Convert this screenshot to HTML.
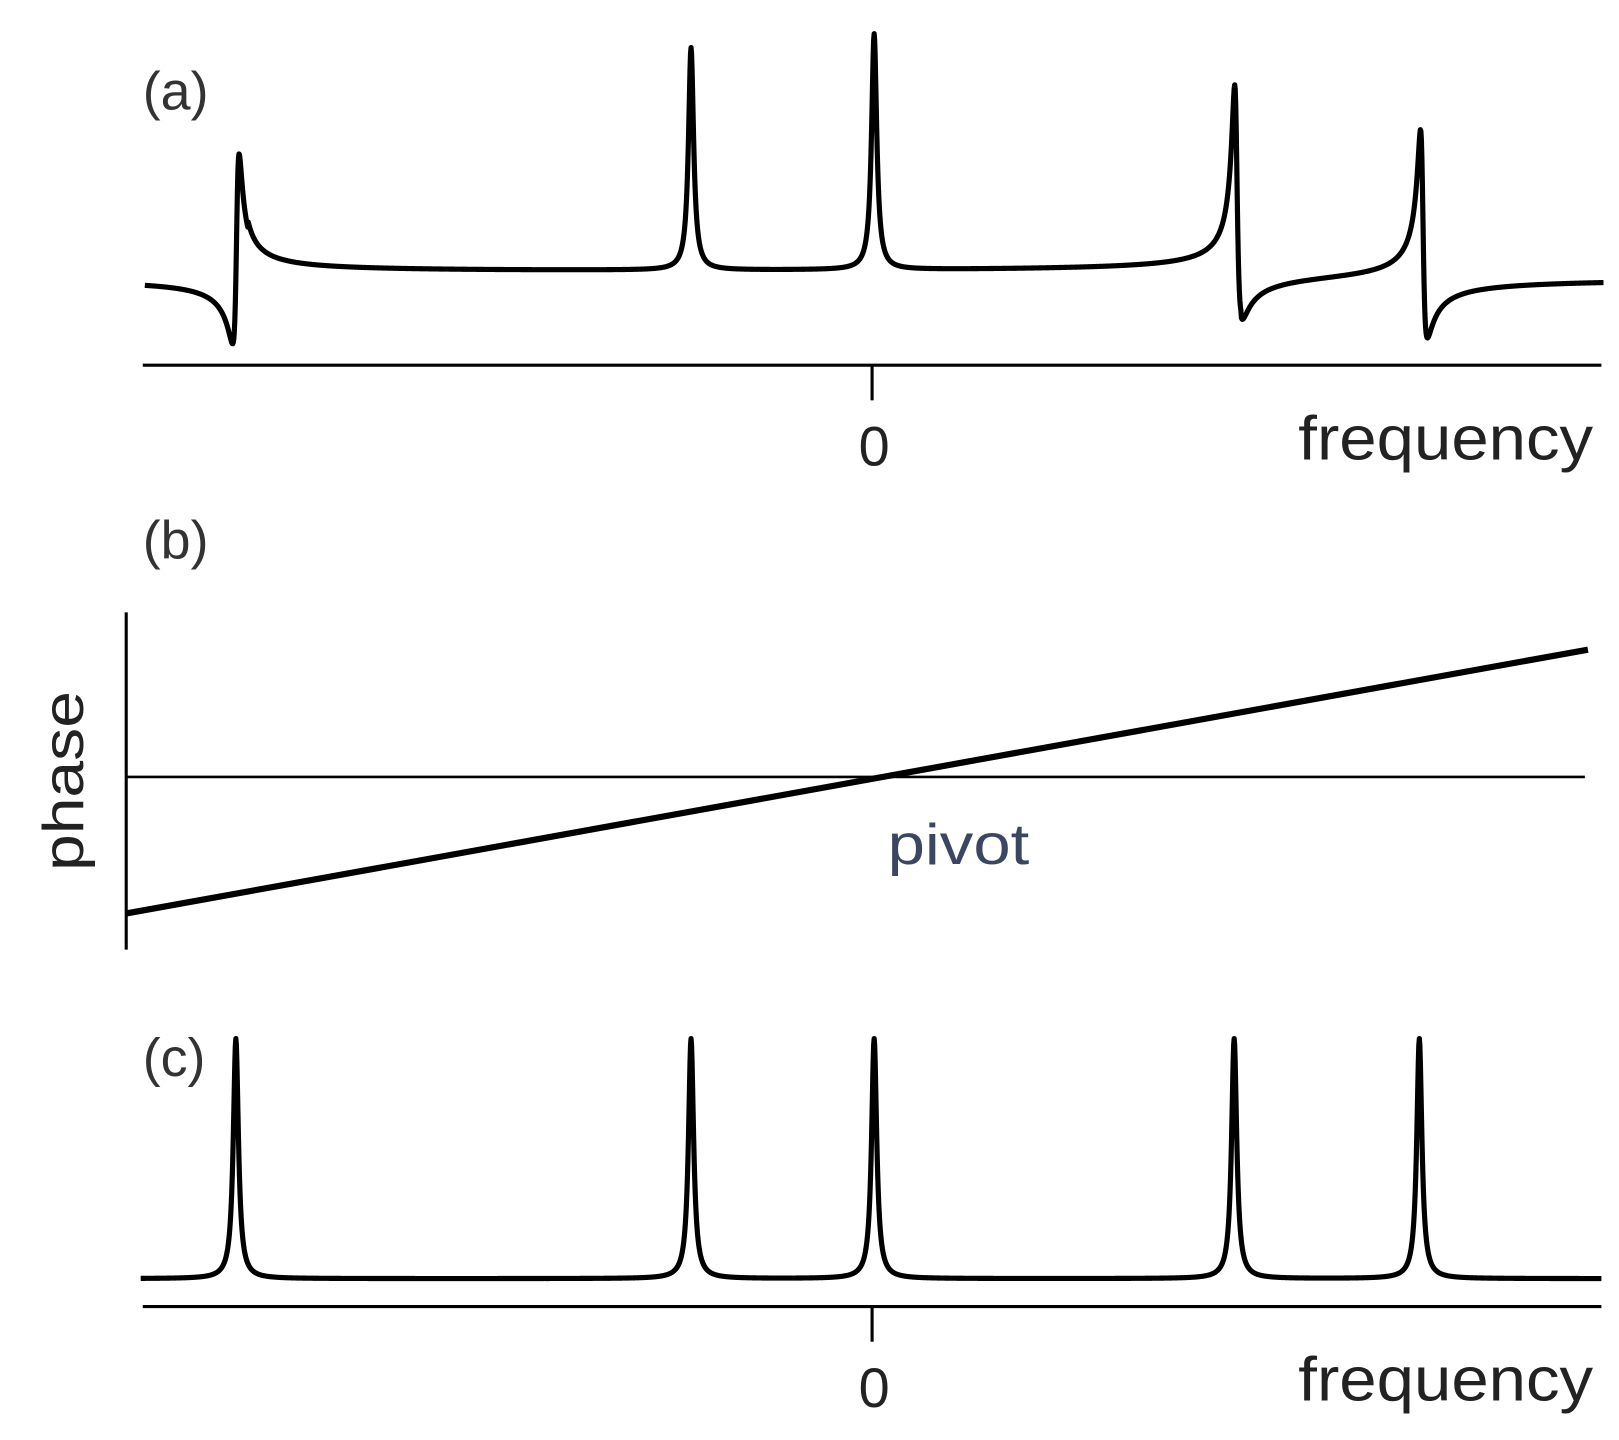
<!DOCTYPE html>
<html><head><meta charset="utf-8"><style>
html,body{margin:0;padding:0;background:#fff;}
svg{display:block;}
text{font-family:"Liberation Sans",Arial,sans-serif;}
</style></head><body>
<svg id="s" width="1619" height="1440" viewBox="0 0 1619 1440" xmlns="http://www.w3.org/2000/svg">
<rect width="1619" height="1440" fill="#fff"/>
<g transform="scale(1.0345)">
<text x="138" y="106" font-size="52" fill="#333">(a)</text>
<text x="138" y="540" font-size="52" fill="#333">(b)</text>
<text x="138" y="1040" font-size="52" fill="#333">(c)</text>
<path id="pa" fill="none" stroke="#000" stroke-width="5" stroke-linejoin="round"/>
<path id="pc" fill="none" stroke="#000" stroke-width="5" stroke-linejoin="round"/>
<line x1="138" y1="353" x2="1548" y2="353" stroke="#000" stroke-width="3"/>
<line x1="843" y1="353" x2="843" y2="387" stroke="#000" stroke-width="3"/>
<text x="845" y="450" font-size="54" fill="#222" text-anchor="middle">0</text>
<text x="1255" y="444" font-size="60" fill="#222" textLength="285" lengthAdjust="spacingAndGlyphs">frequency</text>
<line x1="122" y1="592" x2="122" y2="918" stroke="#000" stroke-width="3"/>
<line x1="122" y1="751" x2="1532" y2="751" stroke="#000" stroke-width="2.5"/>
<line x1="122" y1="883" x2="1535" y2="628" stroke="#000" stroke-width="6"/>
<text x="858" y="835" font-size="56" fill="#3b4663" textLength="137" lengthAdjust="spacingAndGlyphs">pivot</text>
<text transform="translate(80,755) rotate(-90)" font-size="56" fill="#222" text-anchor="middle" textLength="174" lengthAdjust="spacingAndGlyphs">phase</text>
<line x1="138" y1="1263" x2="1548" y2="1263" stroke="#000" stroke-width="3"/>
<line x1="843" y1="1263" x2="843" y2="1297" stroke="#000" stroke-width="3"/>
<text x="845" y="1360" font-size="54" fill="#222" text-anchor="middle">0</text>
<text x="1255" y="1354" font-size="60" fill="#222" textLength="285" lengthAdjust="spacingAndGlyphs">frequency</text>
</g>
</svg>
<script>
function build(base,peaks,x0,x1,w){
 var d="";
 for(var x=x0;x<=x1;x+=0.5){
  var y=base(x);
  for(var i=0;i<peaks.length;i++){
   var p=peaks[i],dx=x-p.x;
   var L=w*w/(dx*dx+w*w), D=2*w*dx/(dx*dx+w*w);
   y-= p.a*L + p.d*D;
  }
  d+=(x==x0?"M":"L")+x+","+y.toFixed(2)+" ";
 }
 return d;
}
var wa=3;
document.getElementById("pa").setAttribute("d",build(function(x){
 if(x<240) return 271; if(x<1200) return 264; return 269;},
 [{x:229,a:59,d:87},{x:668,a:215,d:0},{x:845,a:228,d:0},{x:1195,a:135,d:-88},{x:1375,a:91,d:-90}],140,1550,wa));
document.getElementById("pc").setAttribute("d",build(function(x){return 1236;},
 [{x:228,a:232,d:0},{x:668,a:232,d:0},{x:845,a:232,d:0},{x:1193,a:232,d:0},{x:1372,a:232,d:0}],136,1548,wa));
</script>
</body></html>
